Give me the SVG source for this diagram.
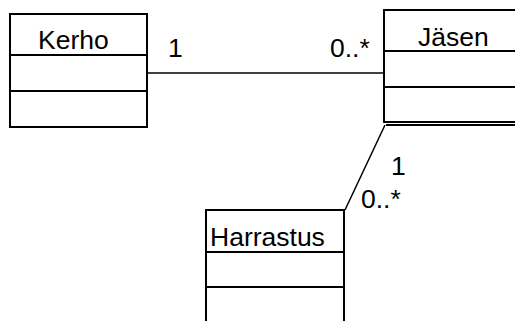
<svg xmlns="http://www.w3.org/2000/svg" width="515" height="321" viewBox="0 0 515 321">
<style>
.box{fill:#fff;stroke:#000;stroke-width:2}
.div{stroke:#000;stroke-width:1.8}
.lbl{font-family:"Liberation Sans",Arial,sans-serif;font-size:26.5px;fill:#000}
.conn{stroke:#000;stroke-width:1.5;fill:none}
</style>
<rect width="515" height="321" fill="#fff"/>
<g id="connectors">
<line class="conn" x1="147" y1="73" x2="384" y2="73"/>
<line class="conn" x1="385" y1="125" x2="345" y2="210"/>
<text class="lbl" x="168" y="57">1</text>
<text class="lbl" x="330" y="57">0..*</text>
<text class="lbl" x="391" y="175">1</text>
<text class="lbl" x="361" y="208">0..*</text>
</g>
<g id="kerho">
<rect class="box" x="10" y="14" width="137" height="113"/>
<line class="div" x1="10" y1="55" x2="147" y2="55"/>
<line class="div" x1="10" y1="91" x2="147" y2="91"/>
<text class="lbl" x="38" y="49">Kerho</text>
</g>
<g id="jasen">
<rect class="box" x="384" y="10" width="140" height="112"/>
<line class="div" x1="384" y1="51" x2="515" y2="51"/>
<line class="div" x1="384" y1="87" x2="515" y2="87"/>
<line class="div" x1="386" y1="125" x2="515" y2="125"/>
<text class="lbl" x="418" y="46">Jäsen</text>
</g>
<g id="harrastus">
<rect class="box" x="206" y="210" width="138" height="130"/>
<line class="div" x1="206" y1="252" x2="344" y2="252"/>
<line class="div" x1="206" y1="287" x2="344" y2="287"/>
<text class="lbl" x="210" y="246">Harrastus</text>
</g>
</svg>
